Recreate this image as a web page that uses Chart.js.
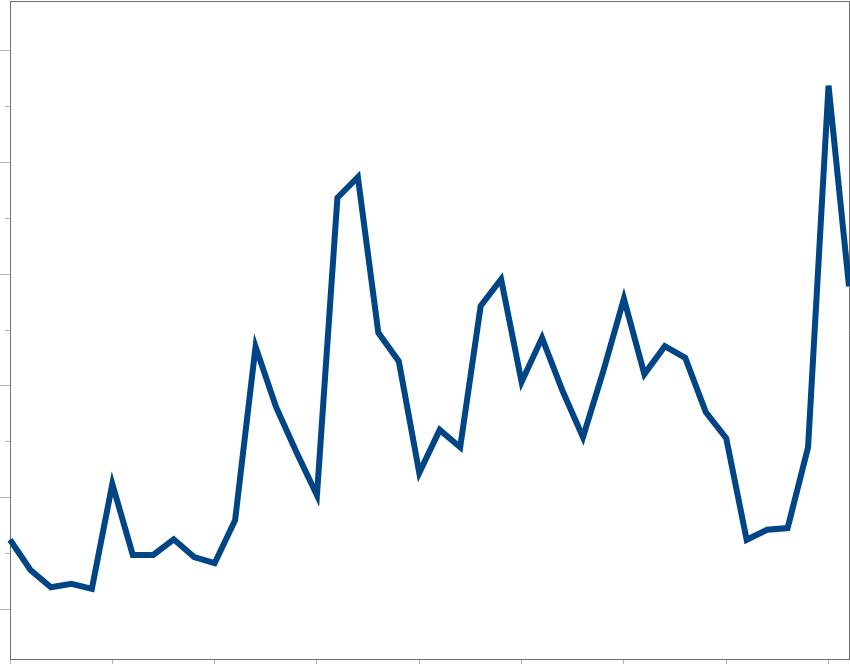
<!DOCTYPE html>
<html>
<head>
<meta charset="utf-8">
<script src="https://cdn.jsdelivr.net/npm/chart.js@4"></script>
<style>
  html, body { margin: 0; padding: 0; background: #fff; }
  #lineChart { display: block; }
</style>
</head>
<body>
<canvas id="lineChart" width="850" height="664"></canvas>
<script>
// series values, one per point
const seriesValues = [
    1.24, 0.70, 0.39, 0.45, 0.36, 2.24, 0.97, 0.97, 1.25, 0.93,
    0.82, 1.59, 4.70, 3.62, 2.81, 2.04, 7.37, 7.74, 4.95, 4.44,
    2.44, 3.21, 2.90, 5.43, 5.91, 4.07, 4.86, 3.91, 3.08, 4.27,
    5.56, 4.21, 4.71, 4.50, 3.53, 3.06, 1.24, 1.42, 1.45, 2.90,
    9.38, 5.78
];
const categories = seriesValues.map((v, i) => String(i + 1));
const majorTicks = [0, 2, 4, 6, 8, 10];
const minorTicks = [1, 3, 5, 7, 9];
const yMin = -0.896;
const yMax = 10.896;

const axisColor = '#6f6f6f';
const tickColor = '#b3b3b3';

function hiddenLabels() {
    return { display: false };
}

function initializeChart() {
    const canvas = document.getElementById('lineChart');

    new Chart(canvas, {
        type: 'line',
        data: {
            labels: categories,
            datasets: [{
                data: seriesValues,
                borderColor: '#004586',
                borderWidth: 6,
                borderJoinStyle: 'miter',
                borderCapStyle: 'butt',
                pointRadius: 0,
                fill: false,
                tension: 0
            }]
        },
        options: {
            responsive: false,
            animation: false,
            layout: { padding: { top: 1, right: 1, left: 0, bottom: 0 } },
            plugins: {
                legend: { display: false },
                tooltip: { enabled: false }
            },
            scales: {
                x: {
                    type: 'category',
                    offset: false,
                    ticks: { display: false, autoSkip: false },
                    grid: {
                        drawOnChartArea: false,
                        tickLength: 5,
                        tickColor: ctx => (ctx.index % 5 === 0 ? tickColor : 'rgba(0,0,0,0)')
                    },
                    border: { color: axisColor, width: 1 }
                },
                y: {
                    min: yMin,
                    max: yMax,
                    weight: 1,
                    afterBuildTicks: axis => {
                        axis.ticks = majorTicks.map(v => ({ value: v }));
                    },
                    ticks: hiddenLabels(),
                    grid: { drawOnChartArea: false, tickLength: 10, tickColor: tickColor },
                    border: { color: axisColor, width: 1 }
                },
                // short ticks between the long ones
                yMinor: {
                    position: 'left',
                    min: yMin,
                    max: yMax,
                    weight: 0,
                    afterBuildTicks: axis => {
                        axis.ticks = minorTicks.map(v => ({ value: v }));
                    },
                    afterFit: axis => { axis.width = 0; },
                    ticks: hiddenLabels(),
                    grid: { drawOnChartArea: false, tickLength: 5, tickColor: tickColor },
                    border: { display: false }
                },
                // top and right frame lines
                xTop: {
                    type: 'linear',
                    position: 'top',
                    ticks: hiddenLabels(),
                    grid: { drawOnChartArea: false, drawTicks: false },
                    border: { color: axisColor, width: 1 }
                },
                yRight: {
                    type: 'linear',
                    position: 'right',
                    ticks: hiddenLabels(),
                    grid: { drawOnChartArea: false, drawTicks: false },
                    border: { color: axisColor, width: 1 }
                }
            }
        }
    });
}

initializeChart();
</script>
</body>
</html>
